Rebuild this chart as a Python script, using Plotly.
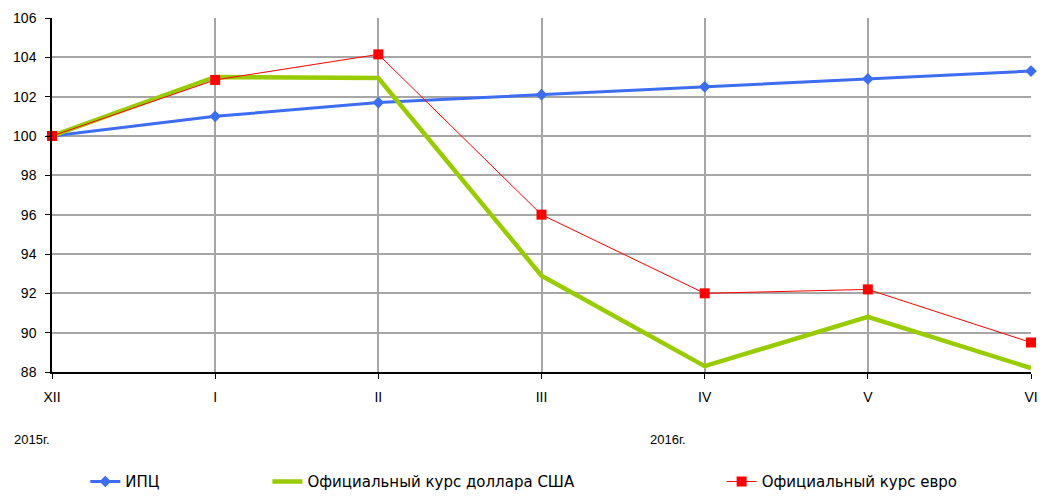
import plotly.graph_objects as go

months = ["XII", "I", "II", "III", "IV", "V", "VI"]
cpi = [100.0, 101.0, 101.7, 102.1, 102.5, 102.9, 103.3]
usd = [100.0, 103.0, 102.95, 92.9, 88.3, 90.8, 88.2]
eur = [100.0, 102.85, 104.15, 96.0, 92.0, 92.2, 89.5]
y_ticks = [88, 90, 92, 94, 96, 98, 100, 102, 104, 106]
year_labels = ["2015г.", "2016г."]

FONT = "Liberation Sans, Arial, sans-serif"
LFONT = "DejaVu Sans, Liberation Sans, sans-serif"

fig = go.Figure()
fig.add_trace(go.Scatter(
    x=months, y=cpi, name="ИПЦ", mode="lines+markers",
    line=dict(color="#3d6df2", width=3),
    marker=dict(symbol="diamond", size=9, color="#3d6df2"),
    cliponaxis=False, legend="legend", showlegend=True))
fig.add_trace(go.Scatter(
    x=months, y=usd, name="Официальный курс доллара США", mode="lines",
    line=dict(color="#99cc00", width=4.5),
    cliponaxis=False, legend="legend2", showlegend=True))
fig.add_trace(go.Scatter(
    x=months, y=eur, name="Официальный курс евро", mode="lines+markers",
    line=dict(color="#ff0000", width=1),
    marker=dict(symbol="square", size=10, color="#ff0000"),
    cliponaxis=False, legend="legend3", showlegend=True))

leg_common = dict(orientation="h", yanchor="middle", y=-0.31, xanchor="left",
                  font=dict(family=LFONT, size=15, color="#000"),
                  bgcolor="rgba(0,0,0,0)", visible=True)
# page body has an 8px default margin; figure sized/margined to compensate
fig.update_layout(
    width=1038, height=490,
    margin=dict(l=44, r=15, t=10, b=126, autoexpand=False),
    showlegend=True,
    paper_bgcolor="white", plot_bgcolor="white",
    font=dict(family=FONT, size=13, color="#000"),
    legend=dict(x=0.034, **leg_common),
    legend2=dict(x=0.22, **leg_common),
    legend3=dict(x=0.684, **leg_common),
    xaxis=dict(
        type="category", range=[0, 6], automargin=False,
        showline=True, linecolor="#000", linewidth=1.5,
        showgrid=True, gridcolor="#a6a6a6", gridwidth=1.5,
        ticks="outside", ticklen=5, tickcolor="#000",
        ticklabelstandoff=6,
        tickfont=dict(family=FONT, size=14, color="#000"),
        zeroline=False),
    yaxis=dict(
        range=[88, 106], tickvals=y_ticks, automargin=False,
        showline=True, linecolor="#000", linewidth=1.5,
        showgrid=True, gridcolor="#a6a6a6", gridwidth=1.5,
        ticks="outside", ticklen=5, tickcolor="#000",
        ticklabelstandoff=6,
        tickfont=dict(family=FONT, size=14, color="#000"),
        zeroline=False),
)

fig.add_annotation(text=year_labels[0], xref="paper", yref="paper",
                   x=-0.02, y=-0.192, xanchor="center", yanchor="middle",
                   showarrow=False, font=dict(family=FONT, size=13, color="#000"))
fig.add_annotation(text=year_labels[1], xref="paper", yref="paper",
                   x=0.629, y=-0.192, xanchor="center", yanchor="middle",
                   showarrow=False, font=dict(family=FONT, size=13, color="#000"))

fig.write_html("out.html")
